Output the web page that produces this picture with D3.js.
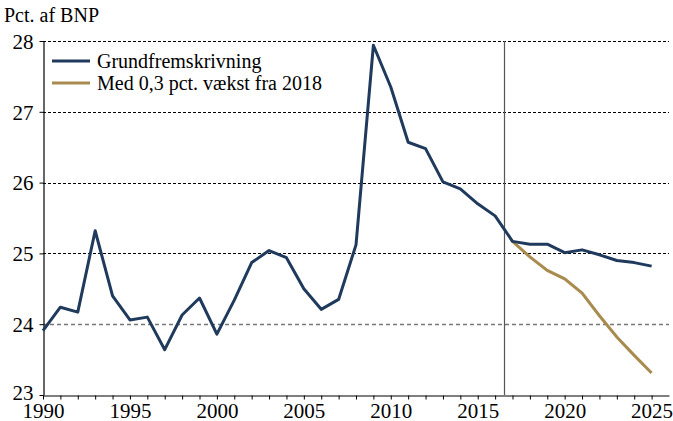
<!DOCTYPE html>
<html>
<head>
<meta charset="utf-8">
<script src="https://cdn.jsdelivr.net/npm/d3@7"></script>
<style>
  body { margin: 0; background: #fff; }
  text { font-family: "Liberation Serif", "Times New Roman", serif; fill: #000; }
</style>
</head>
<body>
<div id="chart"></div>
<script>
// Data
const years = d3.range(1990, 2026);
const grund = [23.91, 24.24, 24.17, 25.32, 24.40, 24.06, 24.10, 23.64, 24.13, 24.37,
               23.86, 24.34, 24.87, 25.04, 24.94, 24.50, 24.21, 24.35, 25.12, 27.94,
               27.35, 26.57, 26.48, 26.01, 25.91, 25.70, 25.53, 25.17, 25.13, 25.13,
               25.01, 25.05, 24.98, 24.90, 24.87, 24.82];
const vaekstYears = d3.range(2017, 2026);
const vaekst = [25.17, 24.95, 24.76, 24.64, 24.44, 24.12, 23.82, 23.56, 23.31];
const yTicks = [23, 24, 25, 26, 27, 28];
const xTicks = [1990, 1995, 2000, 2005, 2010, 2015, 2020, 2025];
const seriesNames = ["Grundfremskrivning", "Med 0,3 pct. vækst fra 2018"];
const colors = ["#1f3a5c", "#a88b4f"];
const splitYear = 2016.5;

let W = 673, H = 421;
let margin = { top: 41, right: 4, bottom: 26, left: 43 };
let serif = "Liberation Serif, Times New Roman, serif";

let svg = d3.select("#chart").append("svg")
  .attr("width", W).attr("height", H);

let x = d3.scaleLinear().domain([1990, 2026]).range([margin.left, 669]);
let y = d3.scaleLinear().domain([23, 28]).range([H - margin.bottom, margin.top]);

// grid lines
svg.append("g").selectAll("line")
  .data(yTicks.filter(d => d > 23))
  .join("line")
  .attr("x1", x(1990)).attr("x2", x(2026))
  .attr("y1", d => Math.round(y(d)) + 0.5).attr("y2", d => Math.round(y(d)) + 0.5)
  .attr("stroke", d => d === 24 ? "#777" : "#000")
  .attr("stroke-width", d => d === 24 ? 1.5 : 1)
  .attr("stroke-dasharray", d => d === 24 ? "4,3" : "3,2");

// vertical separator
svg.append("line")
  .attr("x1", Math.round(x(splitYear)) + 0.5).attr("x2", Math.round(x(splitYear)) + 0.5)
  .attr("y1", y(28)).attr("y2", y(23))
  .attr("stroke", "#555").attr("stroke-width", 1.2);

// axes
let xAxis = svg.append("g")
  .attr("transform", `translate(0, ${Math.round(y(23)) + 0.5})`)
  .call(d3.axisBottom(x).tickValues(years).tickSize(4).tickSizeOuter(0)
    .tickFormat(d => xTicks.includes(d) ? d : ""));
xAxis.select(".domain").attr("stroke-width", 1.2);
xAxis.selectAll("text").attr("font-size", 21).attr("dy", "0.76em")
  .attr("font-family", serif);

let yAxis = svg.append("g")
  .attr("transform", `translate(${Math.round(x(1990)) + 0.5}, 0)`)
  .call(d3.axisLeft(y).tickValues(yTicks).tickSize(4).tickSizeOuter(0).tickFormat(d3.format("d")));
yAxis.select(".domain").attr("stroke-width", 1.2);
yAxis.selectAll("text").attr("font-size", 21).attr("x", -10).attr("dy", "0.35em")
  .attr("font-family", serif);
yAxis.selectAll(".tick").filter(d => d === 23).select("text").attr("dy", "0.2em");

// lines
let line = d3.line().x(d => x(d[0])).y(d => y(d[1]));

svg.append("path")
  .datum(vaekstYears.map((yr, i) => [yr, vaekst[i]]))
  .attr("d", line).attr("fill", "none")
  .attr("stroke", colors[1]).attr("stroke-width", 3);

svg.append("path")
  .datum(years.map((yr, i) => [yr, grund[i]]))
  .attr("d", line).attr("fill", "none")
  .attr("stroke", colors[0]).attr("stroke-width", 3).attr("stroke-linejoin", "round");

// y title
svg.append("text")
  .attr("x", 4).attr("y", 22)
  .attr("font-size", 20)
  .text("Pct. af BNP");

// legend
let legend = svg.append("g").attr("transform", "translate(52, 61)");
seriesNames.forEach((name, i) => {
  let g = legend.append("g").attr("transform", `translate(0, ${i * 22})`);
  g.append("line").attr("x1", 0).attr("x2", 38).attr("y1", 0).attr("y2", 0)
    .attr("stroke", colors[i]).attr("stroke-width", 3);
  g.append("text").attr("x", 45).attr("y", 0).attr("dy", "0.35em")
    .attr("font-size", 20).text(name);
});
</script>
</body>
</html>
